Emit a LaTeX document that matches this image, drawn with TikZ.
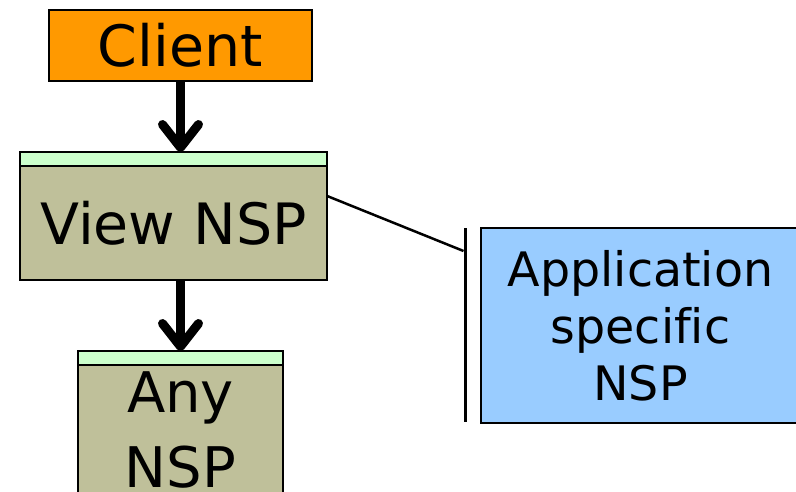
\documentclass[tikz,border=0pt]{standalone}
\usepackage{fontspec}
\setmainfont{DejaVu Sans}[Ligatures=NoCommon]
\usetikzlibrary{arrows.meta,positioning}
\definecolor{xorange}{RGB}{255,153,0}
\definecolor{xolive}{RGB}{191,192,154}
\definecolor{xmint}{RGB}{204,255,204}
\definecolor{xsky}{RGB}{153,204,255}

\begin{document}
\begin{tikzpicture}[x=1pt, y=-1pt,
  box/.style={draw=black, fill=#1, line width=2.5pt, outer sep=0pt, inner sep=0pt,
              align=center, font=\fontsize{57}{68}\selectfont},
  hdr/.style={draw=black, fill=xmint, line width=2.5pt, outer sep=0pt, inner sep=0pt,
              minimum height=14pt},
  bar/.style={fill=black, inner sep=0pt, outer sep=0pt, minimum width=3pt},
  arr/.style={-{Straight Barb[length=23pt, width=36pt, round]}, line width=9pt},
  link/.style={line width=2.5pt}
]
  \useasboundingbox (0,0) rectangle (796,491);
  \clip (0,0) rectangle (796,491);

  % client and the chain of NSPs
  \node[box=xorange, minimum width=263pt, minimum height=71pt] (client) at (180.5,45.5) {Client};
  \node[box=xolive, minimum width=307pt, minimum height=114pt] (view) at (173.5,223) {View NSP};
  \node[hdr, minimum width=307pt, above=0pt of view] (viewhdr) {};
  \node[box=xolive, minimum width=205pt, minimum height=130pt,
        font=\fontsize{56}{75}\selectfont] (any) at (180.5,430) {Any\\NSP};
  \node[hdr, minimum width=205pt, above=0pt of any] (anyhdr) {};

  \draw[arr] (client.south) -- (client.south |- viewhdr.north);
  \draw[arr] (view.south -| anyhdr.north) -- (anyhdr.north);

  % application specific NSP behind the bar
  \node[bar, minimum height=194pt] (sep) at (465,325) {};
  \node[box=xsky, minimum width=319pt, minimum height=195pt,
        font=\fontsize{47.5}{57}\selectfont] (app) at (640.5,325.5) {Application\\specific\\NSP};
  \coordinate (sepjoin) at (463.5,251);
  \draw[link] (view.10) -- (sepjoin);
\end{tikzpicture}
\end{document}
